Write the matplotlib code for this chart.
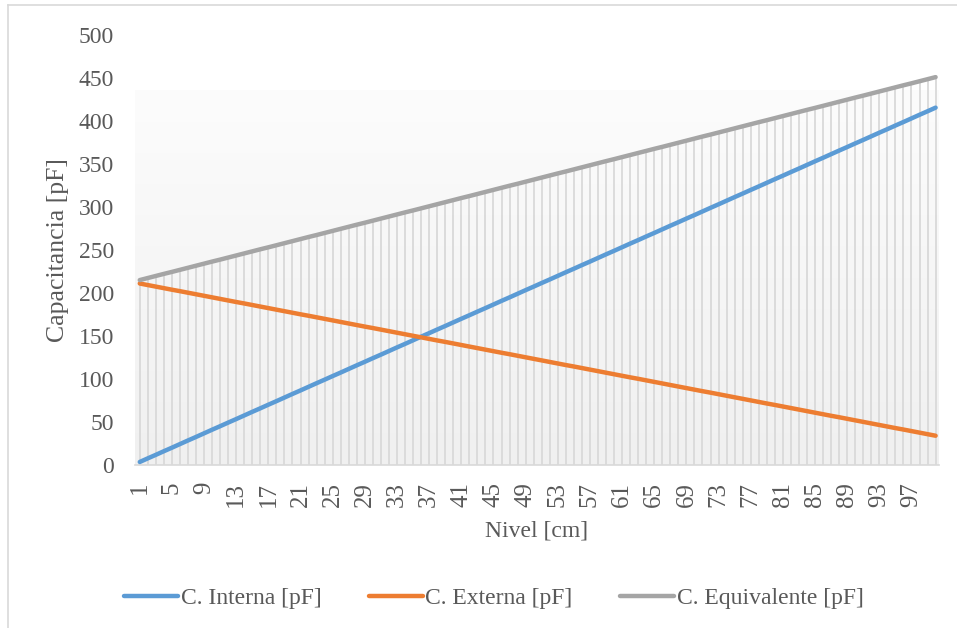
import numpy as np
import matplotlib
matplotlib.use("Agg")
import matplotlib.pyplot as plt
from matplotlib.lines import Line2D

plt.rcParams['font.family'] = ['Liberation Serif', 'DejaVu Serif']

# Nivel [cm]
nivel = list(range(1, 101))

c_interna = [
    3.5, 7.7, 11.8, 16.0, 20.1, 24.3, 28.5, 32.6, 36.8, 41.0,
    45.1, 49.3, 53.4, 57.6, 61.8, 65.9, 70.1, 74.2, 78.4, 82.6,
    86.7, 90.9, 95.1, 99.2, 103.4, 107.5, 111.7, 115.9, 120.0, 124.2,
    128.3, 132.5, 136.7, 140.8, 145.0, 149.2, 153.3, 157.5, 161.6, 165.8,
    170.0, 174.1, 178.3, 182.4, 186.6, 190.8, 194.9, 199.1, 203.3, 207.4,
    211.6, 215.7, 219.9, 224.1, 228.2, 232.4, 236.5, 240.7, 244.9, 249.0,
    253.2, 257.4, 261.5, 265.7, 269.8, 274.0, 278.2, 282.3, 286.5, 290.6,
    294.8, 299.0, 303.1, 307.3, 311.5, 315.6, 319.8, 323.9, 328.1, 332.3,
    336.4, 340.6, 344.7, 348.9, 353.1, 357.2, 361.4, 365.6, 369.7, 373.9,
    378.0, 382.2, 386.4, 390.5, 394.7, 398.8, 403.0, 407.2, 411.3, 415.5,
]

c_externa = [
    211.0, 209.2, 207.4, 205.6, 203.8, 202.1, 200.3, 198.5, 196.7, 194.9,
    193.1, 191.3, 189.5, 187.8, 186.0, 184.2, 182.4, 180.6, 178.8, 177.0,
    175.2, 173.5, 171.7, 169.9, 168.1, 166.3, 164.5, 162.7, 160.9, 159.2,
    157.4, 155.6, 153.8, 152.0, 150.2, 148.4, 146.6, 144.8, 143.1, 141.3,
    139.5, 137.7, 135.9, 134.1, 132.3, 130.5, 128.8, 127.0, 125.2, 123.4,
    121.6, 119.8, 118.0, 116.2, 114.5, 112.7, 110.9, 109.1, 107.3, 105.5,
    103.7, 101.9, 100.2, 98.4, 96.6, 94.8, 93.0, 91.2, 89.4, 87.6,
    85.8, 84.1, 82.3, 80.5, 78.7, 76.9, 75.1, 73.3, 71.5, 69.8,
    68.0, 66.2, 64.4, 62.6, 60.8, 59.0, 57.2, 55.5, 53.7, 51.9,
    50.1, 48.3, 46.5, 44.7, 42.9, 41.2, 39.4, 37.6, 35.8, 34.0,
]

c_equivalente = [
    215.0, 217.4, 219.8, 222.2, 224.5, 226.9, 229.3, 231.7, 234.1, 236.5,
    238.8, 241.2, 243.6, 246.0, 248.4, 250.8, 253.1, 255.5, 257.9, 260.3,
    262.7, 265.1, 267.4, 269.8, 272.2, 274.6, 277.0, 279.4, 281.7, 284.1,
    286.5, 288.9, 291.3, 293.7, 296.0, 298.4, 300.8, 303.2, 305.6, 308.0,
    310.4, 312.7, 315.1, 317.5, 319.9, 322.3, 324.7, 327.0, 329.4, 331.8,
    334.2, 336.6, 339.0, 341.3, 343.7, 346.1, 348.5, 350.9, 353.3, 355.6,
    358.0, 360.4, 362.8, 365.2, 367.6, 369.9, 372.3, 374.7, 377.1, 379.5,
    381.9, 384.2, 386.6, 389.0, 391.4, 393.8, 396.2, 398.6, 400.9, 403.3,
    405.7, 408.1, 410.5, 412.9, 415.2, 417.6, 420.0, 422.4, 424.8, 427.2,
    429.5, 431.9, 434.3, 436.7, 439.1, 441.5, 443.8, 446.2, 448.6, 451.0,
]

series_names = ["C. Interna [pF]", "C. Externa [pF]", "C. Equivalente [pF]"]
series_colors = ["#5b9bd5", "#ed7d31", "#a5a5a5"]
x_ticks = list(range(1, 101, 4))
y_ticks = list(range(0, 501, 50))

text_color = "#595959"
fs = 17

fig = plt.figure(figsize=(9.57, 6.28), dpi=100)
ax = fig.add_axes([0.141, 0.2596, 0.840, 0.6847])

x0, x1 = 0.4, 100.4
ax.set_xlim(x0, x1)
ax.set_ylim(0, 500)

# soft gradient backdrop behind the series
grad = np.linspace(0.0, 1.0, 256).reshape(-1, 1)
cmap = matplotlib.colors.LinearSegmentedColormap.from_list("bg", ["#f0f0f0", "#fcfcfc"])
ax.imshow(grad, cmap=cmap, origin="lower", aspect="auto",
          extent=[x0, x1, 0, 436], zorder=0, interpolation="bicubic")

# drop lines from the highest series down to the axis
tops = np.maximum.reduce([np.array(c_interna), np.array(c_externa), np.array(c_equivalente)])
ax.vlines(nivel, 0, tops, colors="#d9d9d9", linewidth=1.3, zorder=1)

for vals, name, col in zip([c_interna, c_externa, c_equivalente], series_names, series_colors):
    ax.plot(nivel, vals, color=col, linewidth=3.2, solid_capstyle="round", label=name, zorder=3)

for s in ["top", "right", "left"]:
    ax.spines[s].set_visible(False)
ax.spines["bottom"].set_color("#d9d9d9")
ax.spines["bottom"].set_linewidth(1.2)

ax.set_xticks(x_ticks)
ax.set_xticklabels([str(v) for v in x_ticks], rotation=90, fontsize=18, color=text_color)
ax.set_yticks(y_ticks)
ax.set_yticklabels([str(v) for v in y_ticks], fontsize=fs, color=text_color)
ax.tick_params(axis="both", length=0)
ax.tick_params(axis="x", pad=12)
ax.tick_params(axis="y", pad=15)

ax.set_xlabel("Nivel [cm]", fontsize=fs, color=text_color, labelpad=10)
ax.set_ylabel("Capacitancia [pF]", fontsize=18.5, color=text_color, labelpad=7)

handles = [Line2D([0], [0], color=c, linewidth=3.2, solid_capstyle="round") for c in series_colors]
fig.legend(handles, series_names, loc="center", bbox_to_anchor=(0.516, 0.047), ncol=3,
           frameon=False, fontsize=fs, labelcolor=text_color, handlelength=2.3,
           handletextpad=0.1, columnspacing=2.0)

# chart frame edges
fig.add_artist(Line2D([8 / 957, 8 / 957], [0, 1 - 5 / 628], color="#d9d9d9", linewidth=1.2,
                      transform=fig.transFigure))
fig.add_artist(Line2D([8 / 957, 1], [1 - 5 / 628, 1 - 5 / 628], color="#d9d9d9", linewidth=1.2,
                      transform=fig.transFigure))

fig.savefig("out.png", dpi=100)
